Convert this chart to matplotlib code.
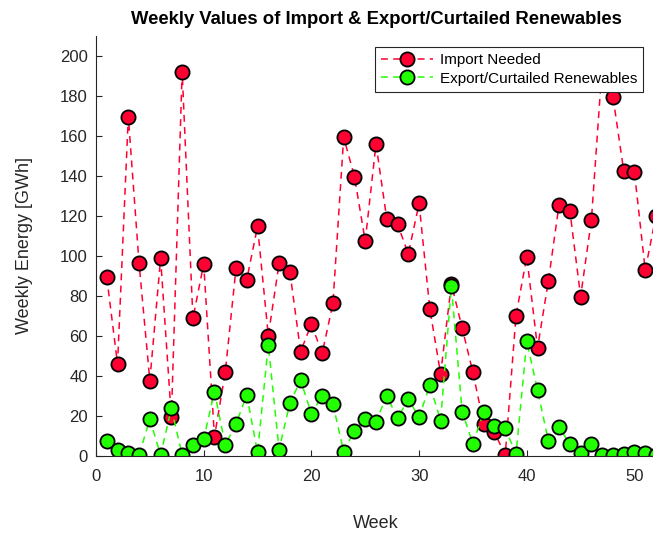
import matplotlib
matplotlib.use("Agg")
import matplotlib.pyplot as plt

plt.rcParams['font.family'] = ['Liberation Sans', 'DejaVu Sans']

weeks = list(range(1, 53))

import_needed = [
    89.3, 46.0, 169.7, 96.3, 37.7, 98.8, 19.3, 192.2, 68.8, 96.0,
    9.7, 41.8, 93.8, 88.2, 114.8, 60.2, 96.3, 92.2, 52.2, 66.0,
    51.3, 76.3, 159.3, 139.7, 107.5, 156.0, 118.5, 116.0, 101.0, 126.3,
    73.5, 41.0, 86.0, 64.0, 41.8, 16.0, 11.8, 0.5, 70.2, 99.7,
    54.0, 87.3, 125.7, 122.7, 79.7, 118.0, 195.0, 179.7, 142.7, 141.8,
    93.0, 120.2,
]

export_curtailed = [
    7.7, 3.0, 1.3, 0.5, 18.5, 0.5, 23.8, 0.5, 5.5, 8.5,
    32.2, 5.5, 16.0, 30.5, 1.8, 55.5, 3.2, 26.3, 38.0, 21.0,
    30.2, 26.0, 2.2, 12.7, 18.5, 17.2, 30.2, 18.8, 28.5, 19.3,
    35.5, 17.7, 84.8, 22.2, 6.0, 22.2, 15.2, 13.8, 1.0, 57.3,
    33.0, 7.7, 14.3, 6.0, 1.5, 6.0, 0.5, 0.5, 1.0, 2.2,
    1.3, 0.5,
]

x_ticks = [0, 10, 20, 30, 40, 50]
y_ticks = [0, 20, 40, 60, 80, 100, 120, 140, 160, 180, 200]

RED = '#FF0033'
GREEN = '#22FF00'
TXT = '#262626'

fig = plt.figure(figsize=(6.53, 5.33), dpi=100)
ax = fig.add_axes([96 / 653, 77 / 533, 560 / 653, 420 / 533])

ax.plot(weeks, import_needed, linestyle='--', dashes=(4.5, 3.5), color=RED,
        linewidth=1.1, marker='o', markersize=10.2, markerfacecolor=RED,
        markeredgecolor='black', markeredgewidth=1.3, label='Import Needed')
ax.plot(weeks, export_curtailed, linestyle='--', dashes=(4.5, 3.5), color=GREEN,
        linewidth=1.1, marker='o', markersize=10.2, markerfacecolor=GREEN,
        markeredgecolor='black', markeredgewidth=1.3,
        label='Export/Curtailed Renewables')

ax.set_xlim(0, 52)
ax.set_ylim(0, 210)
ax.set_xticks(x_ticks)
ax.set_yticks(y_ticks)

for side in ('top', 'right'):
    ax.spines[side].set_visible(False)
for side in ('left', 'bottom'):
    ax.spines[side].set_color(TXT)
    ax.spines[side].set_linewidth(0.8)

ax.tick_params(direction='in', length=4.5, width=0.8, colors=TXT,
               labelsize=12)
ax.tick_params(axis='x', pad=9.5)
ax.tick_params(axis='y', pad=6)

ax.set_xlabel('Week', fontsize=13, color=TXT, labelpad=22)
ax.set_ylabel('Weekly Energy [GWh]', fontsize=13, color=TXT, labelpad=19)
ax.set_title('Weekly Values of Import & Export/Curtailed Renewables',
             fontsize=13.3, fontweight='bold', color='black', pad=9)

leg = ax.legend(loc='upper right', bbox_to_anchor=(643 / 653, 486 / 533),
                bbox_transform=fig.transFigure, fontsize=11, frameon=True,
                fancybox=False, framealpha=1, edgecolor=TXT,
                handlelength=3.4, handletextpad=0.45, borderpad=0.4,
                labelspacing=0.3, borderaxespad=0)
leg.get_frame().set_linewidth(0.8)

fig.savefig('out.png', dpi=100)
